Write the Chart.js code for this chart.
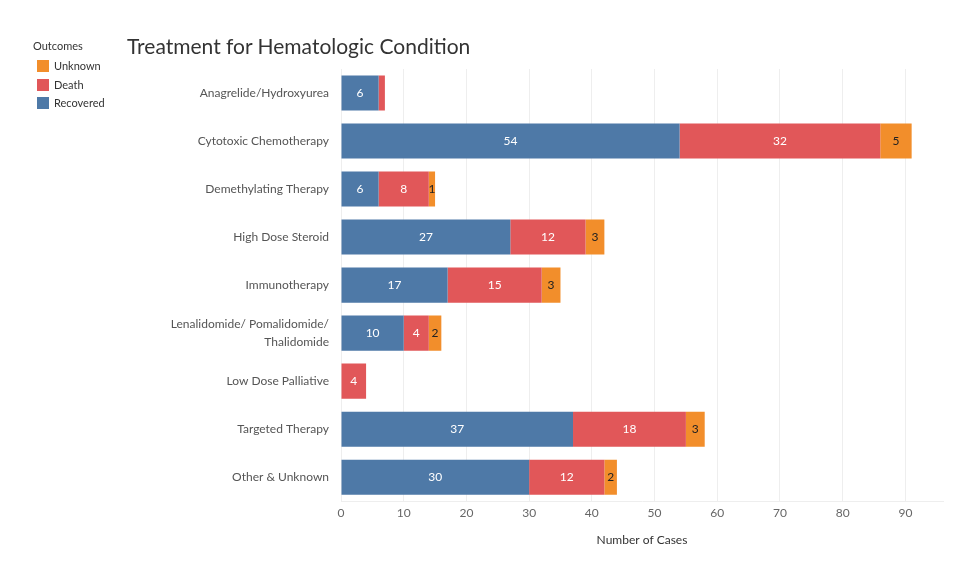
<!DOCTYPE html>
<html>
<head>
<meta charset="utf-8">
<script src="https://cdn.jsdelivr.net/npm/chart.js@4/dist/chart.umd.min.js"></script>
<style>
  body { margin: 0; background: #fff; font-family: Lato, "Open Sans", sans-serif; }
  #wrap { position: relative; width: 978px; height: 580px; }
  #title { position: absolute; left: 127px; top: 33px; font-size: 21px; color: #333; }
  #legend { position: absolute; left: 33px; top: 39px; font-size: 11px; color: #333; }
  #legend .head { margin-bottom: 8px; }
  #legend .item { height: 18.5px; line-height: 12px; }
  #legend .box { display: inline-block; width: 12px; height: 12px; margin: 0 5px 0 4px; vertical-align: top; }
</style>
</head>
<body>
<div id="wrap">
  <canvas id="myChart" width="978" height="580"></canvas>
  <div id="title">Treatment for Hematologic Condition</div>
  <div id="legend">
    <div class="head">Outcomes</div>
    <div class="item"><span class="box" style="background:#f28e2b"></span>Unknown</div>
    <div class="item"><span class="box" style="background:#e15759"></span>Death</div>
    <div class="item"><span class="box" style="background:#4e79a7"></span>Recovered</div>
  </div>
</div>
<script>
const treatments = [
  'Anagrelide/Hydroxyurea',
  'Cytotoxic Chemotherapy',
  'Demethylating Therapy',
  'High Dose Steroid',
  'Immunotherapy',
  ['Lenalidomide/ Pomalidomide/', 'Thalidomide'],
  'Low Dose Palliative',
  'Targeted Therapy',
  'Other & Unknown'
];
const recovered = [6, 54, 6, 27, 17, 10, 0, 37, 30];
const death = [1, 32, 8, 12, 15, 4, 4, 18, 12];
const unknown = [0, 5, 1, 3, 3, 2, 0, 3, 2];

// draw the numbers inside the bars
const barLabels = {
  id: 'barLabels',
  afterDatasetsDraw(chart) {
    const ctx = chart.ctx;
    ctx.save();
    ctx.font = '12px Lato, "Open Sans", sans-serif';
    ctx.textAlign = 'center';
    ctx.textBaseline = 'middle';
    chart.data.datasets.forEach(function(ds, i) {
      chart.getDatasetMeta(i).data.forEach(function(bar, j) {
        const v = ds.data[j];
        if (!v) return;
        if (v < 2 && ds.label !== 'Unknown') return;
        ctx.fillStyle = ds.label === 'Unknown' ? '#222' : '#fff';
        ctx.fillText(v, (bar.x + bar.base) / 2, bar.y);
      });
    });
    ctx.restore();
  }
};

let ctx = document.getElementById('myChart').getContext('2d');
let chart = new Chart(ctx, {
  type: 'bar',
  data: {
    labels: treatments,
    datasets: [
      { label: 'Recovered', data: recovered, backgroundColor: '#4e79a7' },
      { label: 'Death', data: death, backgroundColor: '#e15759' },
      { label: 'Unknown', data: unknown, backgroundColor: '#f28e2b' }
    ]
  },
  options: {
    indexAxis: 'y',
    responsive: false,
    animation: false,
    categoryPercentage: 0.73,
    barPercentage: 1,
    layout: { padding: { top: 69, right: 35, left: 0, bottom: 33 } },
    plugins: { legend: { display: false }, tooltip: { enabled: false } },
    scales: {
      x: {
        stacked: true,
        min: 0,
        max: 96,
        afterBuildTicks: function(scale) {
          scale.ticks = scale.ticks.filter(t => t.value % 10 === 0);
        },
        ticks: { stepSize: 10, color: '#666', padding: 5, font: { family: 'Lato', size: 12 } },
        grid: { color: '#eeeeee', drawTicks: false },
        border: { color: '#eeeeee' },
        title: { display: true, text: 'Number of Cases', color: '#333', font: { family: 'Lato', size: 12 }, padding: { top: 7, bottom: 0 } }
      },
      y: {
        stacked: true,
        afterFit: function(scale) { scale.width = 341; },
        ticks: { color: '#555', padding: 4, font: { family: 'Lato', size: 12, lineHeight: 1.5 } },
        grid: { display: false },
        border: { display: false }
      }
    }
  },
  plugins: [barLabels]
});
</script>
</body>
</html>
